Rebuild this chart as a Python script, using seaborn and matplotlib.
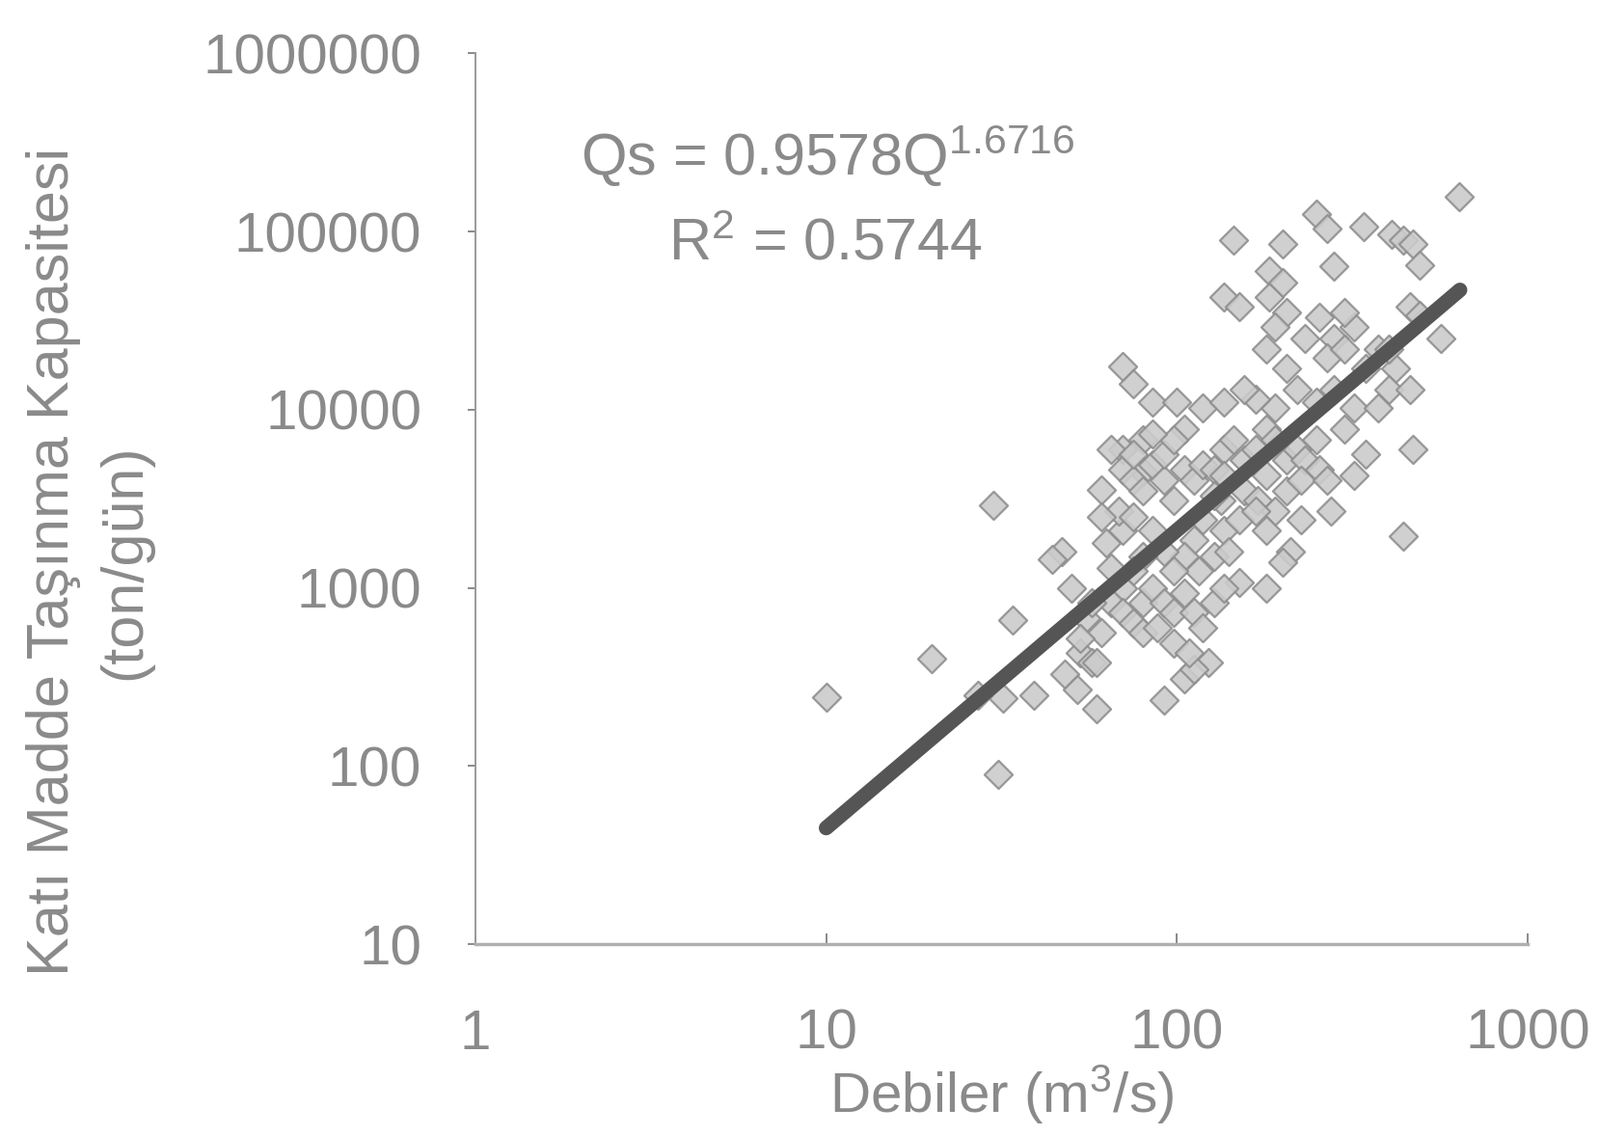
import numpy as np
import pandas as pd
import matplotlib
matplotlib.use("Agg")
import matplotlib.pyplot as plt
import seaborn as sns
from matplotlib.ticker import FixedLocator, FixedFormatter, NullLocator

# ---- data ----
debi = [10, 20, 30, 31, 34, 32, 27, 39, 47, 44, 50, 53, 48, 52, 59, 57, 55, 61, 70, 70,
        75, 80, 85, 100, 118, 136, 105, 145, 136, 150, 183, 183, 200, 205, 250, 267, 280,
        340, 410, 440, 470, 490, 636, 460, 565, 470, 440, 275, 210, 180, 150, 123, 105, 92,
        112, 59, 180, 190, 232, 280, 320, 373, 420, 400, 250, 280, 320, 373, 460, 490,
        65, 70, 75, 80, 85, 92, 98, 105, 112, 118, 128, 136, 145, 155, 167, 180, 190, 205,
        220, 232, 250, 255, 155, 170, 190, 205, 225, 133, 118, 136, 150, 167, 112, 105, 115,
        128, 140, 98, 92, 85, 80, 75, 70, 65, 70, 75, 80, 85, 92, 98, 105, 112, 118, 128,
        136, 80, 88, 70, 63, 68, 75, 65, 57, 61, 98, 108, 53, 80, 75, 92, 98, 136, 128, 180,
        300, 345, 320, 267, 190, 167, 205, 220, 267, 300, 255, 300, 345, 400, 200, 155, 85,
        61, 180, 200, 225]
kapasite = [243, 400, 2900, 90, 660, 240, 250, 250, 1600, 1450, 1000, 430, 330, 270, 210,
            380, 680, 3550, 6000, 17400, 14000, 4500, 11000, 11000, 10200, 11000, 7800, 90000,
            43000, 38000, 60000, 43000, 52000, 35000, 126000, 104000, 64000, 106000, 96000,
            90000, 85000, 65000, 156000, 38000, 25000, 6000, 1950, 2700, 1600, 1000, 1080, 380,
            310, 235, 350, 380, 22000, 29000, 25000, 25000, 29000, 22000, 17000, 13000, 11000,
            13000, 10200, 10200, 13000, 34000,
            6000, 4600, 4000, 3500, 4900, 4000, 3100, 4600, 4000, 4900, 4600, 6000, 6800, 5200,
            6000, 7800, 6800, 5200, 6000, 5200, 6800, 4600, 3500, 3100, 2700, 3500, 4000, 3100,
            2400, 2100, 2400, 2700, 1850, 1500, 1250, 1500, 1600, 1250, 1600, 2100, 1500, 1250,
            1000, 830, 725, 640, 830, 1000, 830, 725, 940, 725, 600, 830, 1000, 560, 600, 2100,
            1800, 2700, 2500, 1300, 830, 560, 490, 430, 520, 6800, 5600, 5600, 6800, 4300, 3300,
            4300, 7800, 5600, 4300, 4000, 10200, 11500, 17000, 13000, 19600, 22000, 33000, 35000,
            17000, 22000, 85000, 13000, 7300, 2500, 2100, 1400, 2400]

coef_a = 0.9578
coef_b = 1.6716
fit_range = [10, 640]

x_ticks = [1, 10, 100, 1000]
x_ticklabels = ["1", "10", "100", "1000"]
y_ticks = [10, 100, 1000, 10000, 100000, 1000000]
y_ticklabels = ["10", "100", "1000", "10000", "100000", "1000000"]

df = pd.DataFrame({"Debi": debi, "Kapasite": kapasite})
fx = np.geomspace(fit_range[0], fit_range[1], 50)
fit_df = pd.DataFrame({"Debi": fx, "Kapasite": coef_a * fx ** coef_b})

# ---- style ----
sns.set_theme(style="white")
plt.rcParams["font.family"] = ["Liberation Sans", "DejaVu Sans"]
plt.rcParams["mathtext.fontset"] = "custom"
plt.rcParams["mathtext.rm"] = "Liberation Sans"
plt.rcParams["mathtext.it"] = "Liberation Sans"
TXT = "#8a8a8a"

fig = plt.figure(figsize=(16.59, 11.77), dpi=100)
ax = fig.add_axes([0.297, 0.168, 0.658, 0.785])

sns.scatterplot(data=df, x="Debi", y="Kapasite", ax=ax, marker="D", s=220,
                color="#cbcbcb", edgecolor="#8e8e8e", linewidth=1.6, alpha=0.9, zorder=2)
sns.lineplot(data=fit_df, x="Debi", y="Kapasite", ax=ax, color="#555555",
             linewidth=11, zorder=3, solid_capstyle="round")

ax.set_xscale("log")
ax.set_yscale("log")
ax.set_xlim(1, 1000)
ax.set_ylim(10, 1000000)

ax.xaxis.set_major_locator(FixedLocator(x_ticks))
ax.xaxis.set_major_formatter(FixedFormatter(x_ticklabels))
ax.yaxis.set_major_locator(FixedLocator(y_ticks))
ax.yaxis.set_major_formatter(FixedFormatter(y_ticklabels))
ax.xaxis.set_minor_locator(NullLocator())
ax.yaxis.set_minor_locator(NullLocator())

ax.tick_params(axis="x", labelsize=42, colors="#777777", labelcolor=TXT,
               direction="in", length=8, width=1.2, pad=48, bottom=True)
ax.tick_params(axis="y", labelsize=42, colors="#777777", labelcolor=TXT,
               direction="out", length=6, width=1.2, pad=34, left=True)

for s in ["top", "right"]:
    ax.spines[s].set_visible(False)
ax.spines["left"].set_color("#9a9a9a")
ax.spines["left"].set_linewidth(1.4)
ax.spines["bottom"].set_color("#b0b0b0")
ax.spines["bottom"].set_linewidth(2.5)

ax.set_xlabel(r"Debiler (m$^{3}$/s)", fontsize=42, color=TXT, labelpad=2)
ax.set_ylabel("")
fig.text(0.056, 0.505, "Katı Madde Taşınma Kapasitesi\n(ton/gün)", rotation=90,
         fontsize=44, color=TXT, ha="center", va="center", linespacing=1.4,
         multialignment="center")

ax.text(0.335, 0.885, r"Qs = 0.9578Q$^{1.6716}$", transform=ax.transAxes,
        fontsize=44, color=TXT, ha="center", va="center")
ax.text(0.333, 0.785, r"R$^{2}$ = 0.5744", transform=ax.transAxes,
        fontsize=44, color=TXT, ha="center", va="center")

ax.grid(False)
fig.savefig("out.png", dpi=100, facecolor="white")
